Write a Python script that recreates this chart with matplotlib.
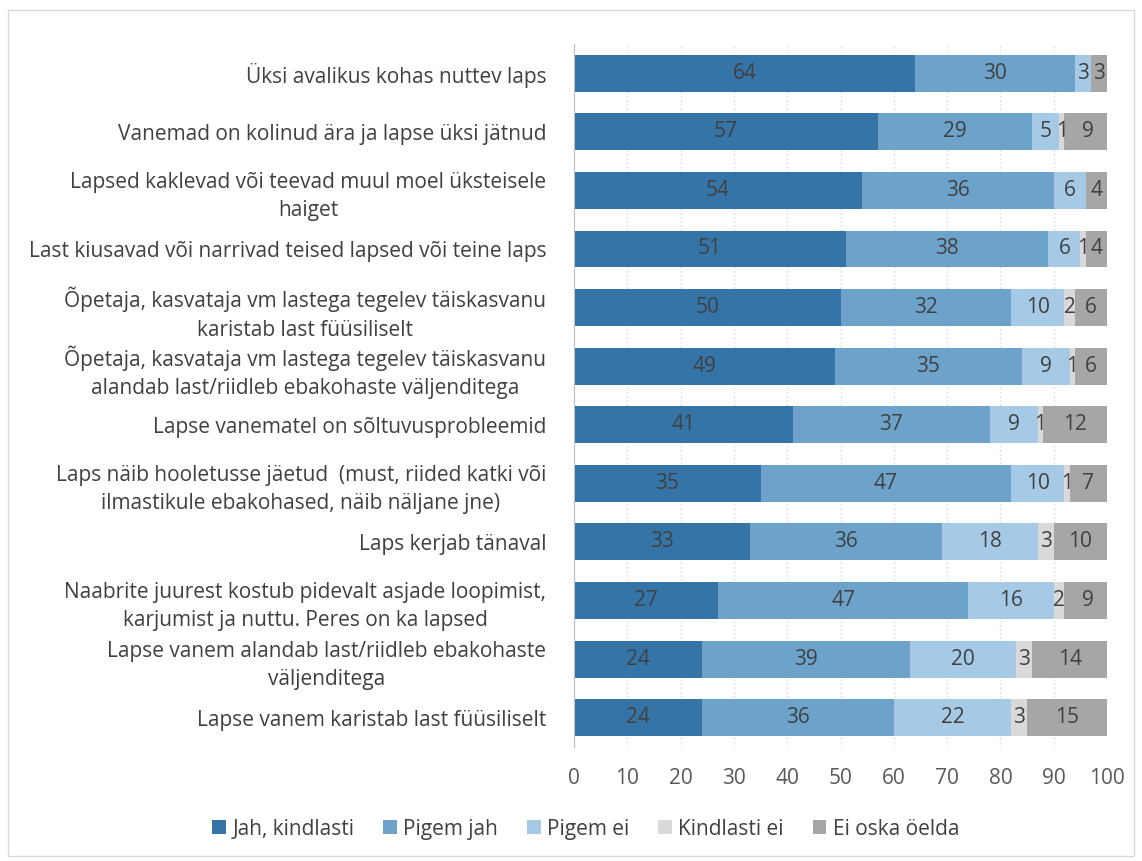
import numpy as np
import matplotlib.pyplot as plt
from matplotlib.patches import Rectangle

categories = [
    "Üksi avalikus kohas nuttev laps",
    "Vanemad on kolinud ära ja lapse üksi jätnud",
    "Lapsed kaklevad või teevad muul moel üksteisele\nhaiget",
    "Last kiusavad või narrivad teised lapsed või teine laps",
    "Õpetaja, kasvataja vm lastega tegelev täiskasvanu\nkaristab last füüsiliselt",
    "Õpetaja, kasvataja vm lastega tegelev täiskasvanu\nalandab last/riidleb ebakohaste väljenditega",
    "Lapse vanematel on sõltuvusprobleemid",
    "Laps näib hooletusse jäetud  (must, riided katki või\nilmastikule ebakohased, näib näljane jne)",
    "Laps kerjab tänaval",
    "Naabrite juurest kostub pidevalt asjade loopimist,\nkarjumist ja nuttu. Peres on ka lapsed",
    "Lapse vanem alandab last/riidleb ebakohaste\nväljenditega",
    "Lapse vanem karistab last füüsiliselt",
]

series_names = ["Jah, kindlasti", "Pigem jah", "Pigem ei", "Kindlasti ei", "Ei oska öelda"]
jah_kindlasti = [64, 57, 54, 51, 50, 49, 41, 35, 33, 27, 24, 24]
pigem_jah = [30, 29, 36, 38, 32, 35, 37, 47, 36, 47, 39, 36]
pigem_ei = [3, 5, 6, 6, 10, 9, 9, 10, 18, 16, 20, 22]
kindlasti_ei = [0, 1, 0, 1, 2, 1, 1, 1, 3, 2, 3, 3]
ei_oska = [3, 9, 4, 4, 6, 6, 12, 7, 10, 9, 14, 15]

colors = ["#3474A7", "#6DA3CB", "#A6CAE6", "#D9D9D9", "#A6A6A6"]

plt.rcParams['font.family'] = ['Open Sans', 'DejaVu Sans']
fs = 15

fig = plt.figure(figsize=(11.42, 8.61), dpi=100)
ax = fig.add_axes([0.5026, 0.1324, 0.4668, 0.8166])

data = np.array([jah_kindlasti, pigem_jah, pigem_ei, kindlasti_ei, ei_oska], dtype=float)
y = np.arange(len(categories))
left = np.zeros(len(categories))
for vals, name, col in zip(data, series_names, colors):
    ax.barh(y, vals, left=left, height=0.63, color=col, label=name, zorder=2)
    for yi, l, v in zip(y, left, vals):
        if v > 0:
            ax.text(l + v / 2, yi, f"{v:.0f}", ha='center', va='center',
                    fontsize=fs, color='#404040', zorder=3)
    left += vals

ax.set_ylim(len(categories) - 0.5, -0.5)
ax.set_xlim(0, 100)
ax.set_xticks(np.arange(0, 101, 10))
ax.set_yticks(y)
ax.set_yticklabels(categories, fontsize=fs, color='#404040')
for t in ax.get_yticklabels():
    t.set_multialignment('center')
    t.set_linespacing(1.45)
ax.tick_params(axis='y', length=0, pad=20)
ax.tick_params(axis='x', length=0, pad=15, labelsize=fs, labelcolor='#595959')
ax.grid(axis='x', linestyle=(0, (1, 2)), color='#D9D9D9', linewidth=1, zorder=0)
for s in ['top', 'right', 'bottom']:
    ax.spines[s].set_visible(False)
ax.spines['left'].set_color('#BFBFBF')

ax.legend(loc='center', bbox_to_anchor=(0.513, 0.037), bbox_transform=fig.transFigure,
          ncol=5, frameon=False, fontsize=fs, handlelength=0.65, handleheight=0.65,
          handletextpad=0.3, columnspacing=1.4, labelcolor='#404040')

fig.patches.append(Rectangle((0.007, 0.006), 0.986, 0.982, transform=fig.transFigure,
                             fill=False, edgecolor='#D9D9D9', linewidth=1))

fig.savefig("out.png", dpi=100)
